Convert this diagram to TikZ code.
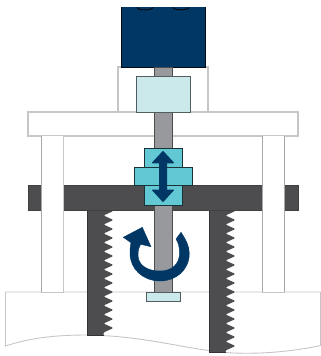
\documentclass[tikz,border=0pt]{standalone}
\definecolor{navy}{HTML}{003764}
\definecolor{pale}{HTML}{CBE8EA}
\definecolor{teal}{HTML}{62C8D3}
\definecolor{darkg}{HTML}{4D4D4F}
\definecolor{shaftg}{HTML}{97999C}
\definecolor{lineg}{HTML}{C6C6C6}
\tikzset{
  x=1pt,y=-1pt,
  light/.style={draw=lineg,line width=1.1pt,fill=white},
  lightthin/.style={draw=lineg!85!black,line width=0.8pt},
  darkpart/.style={draw=black!75,line width=0.8pt,fill=darkg},
  nutpart/.style={draw=black!75!teal,line width=0.9pt,fill=teal},
  palepart/.style={draw=black!60!pale,line width=0.9pt,fill=pale},
  shaftpart/.style={draw=black!70,line width=0.8pt,fill=shaftg},
  navyfill/.style={fill=navy,draw=navy,line width=0.4pt,line join=round}
}
\begin{document}
\begin{tikzpicture}
\useasboundingbox (0,0) rectangle (321,356);
\clip (0,0) rectangle (321,356);
% base
\draw[light,line width=0.9pt] (5.5,346) -- (5.5,292) -- (320.5,292) -- (320.5,345.6)
  .. controls (290,352) and (260,354) .. (234,353)
  .. controls (190,351) and (150,336) .. (87,335)
  .. controls (55,335) and (30,338) .. (5.5,346) -- cycle;
% upper bracket
\draw[light] (118,67) rectangle (208,112);
% motor
\fill[navy] (121,7) rectangle (205,67);
\draw[black!80!navy,line width=0.6pt] (121,7) -- (121,67) -- (205,67) -- (205,7);
\draw[black,line width=0.8pt] (137,7.3) arc[start angle=180,end angle=0,x radius=8,y radius=2.6];
\draw[black,line width=0.8pt] (173,7.3) arc[start angle=180,end angle=0,x radius=8,y radius=2.6];
% top plate
\draw[light] (28,112) rectangle (298,136);
% dark columns with teeth
\foreach \xa/\xb/\xc/\yend in {87.3/103.5/113.5/335.5,209.3/225.5/235.5/352}{
  \fill[darkg] (\xa,209) -- (\xb,209) [rounded corners=1.1pt]
    \foreach \k in {0,...,15}{
      \pgfextra{\pgfmathsetmacro\ya{211+\k*9}\pgfmathsetmacro\yb{\ya+4.5}}
      \ifdim \ya pt<\yend pt -- (\xc,\ya) -- (\xb,\yb)\fi
    }
    [sharp corners] -- (\xb,\yend) -- (\xa,\yend) -- cycle;
  \draw[black!80,line width=0.6pt] (\xa,209) -- (\xa,\yend) -- (\xb,\yend);
}
% dark plate
\draw[darkpart] (28,185.5) rectangle (298,210);
% pillars
\fill[white] (41.5,136) rectangle (63.5,292);
\fill[white] (262,136) rectangle (284.5,292);
\draw[lightthin] (41.5,136) -- (41.5,292);
\draw[light] (63.5,136) -- (63.5,292);
\draw[lightthin] (262,136) -- (262,292);
\draw[lightthin] (284.5,136) -- (284.5,292);
\draw[lineg,line width=0.9pt] (41,292) -- (64,292) (261.5,292) -- (285,292);
% shaft
\draw[shaftpart] (154,67) rectangle (172,292);
% coupling
\draw[palepart] (136,76) rectangle (190,112);
% nut
\draw[nutpart] (144,148) rectangle (182,167.3);
\draw[nutpart] (144,185.6) rectangle (182,205.7);
\draw[nutpart] (134,167.3) rectangle (192,185.6);
% foot
\draw[palepart] (146,292) rectangle (180,301);
% double arrow
\draw[navyfill,line width=1pt] (163,151.5) -- (173.5,162.8) -- (166.5,162.8) -- (166.5,190) -- (173.5,190)
  -- (163,201.5) -- (152.5,190) -- (159.5,190) -- (159.5,162.8) -- (152.5,162.8) -- cycle;
% rotation arrow
\draw[navyfill] (181,232.3) .. controls (186,240) and (189.3,246) .. (189.3,253.3)
  .. controls (189.3,270) and (176,281) .. (160,281)
  .. controls (143,281) and (130,269) .. (130,253.3)
  .. controls (130,249) and (130.3,246) .. (131,242.7)
  -- (123.3,237.3) -- (142.3,227.3) -- (151,246.7) -- (140.7,244.3)
  .. controls (138.5,248) and (138,251) .. (138,255)
  .. controls (138,265) and (147,271) .. (160,271)
  .. controls (172,271) and (179.5,264) .. (179.5,253.3)
  .. controls (179.5,247) and (178.5,243) .. (176,239) -- cycle;
\end{tikzpicture}
\end{document}
